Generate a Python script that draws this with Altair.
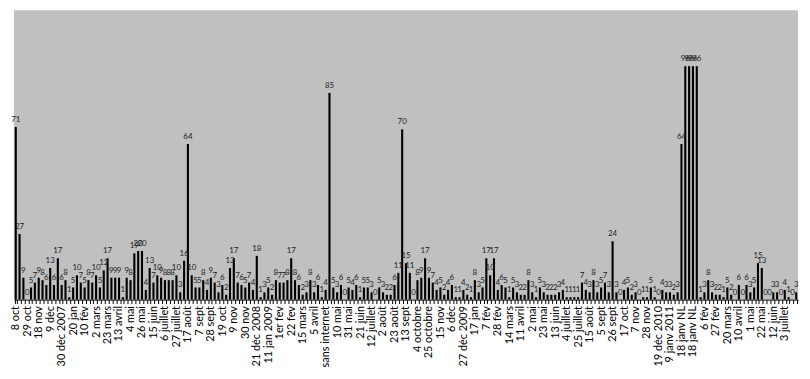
import altair as alt
import pandas as pd

values = [
    71, 27, 9, 0, 5, 7, 9, 8, 6, 13, 6, 17, 6, 8, 1, 5, 10, 7, 5, 8,
    7, 10, 5, 12, 17, 9, 9, 9, 1, 9, 8, 19, 20, 20, 4, 13, 7, 10, 9, 8,
    8, 8, 10, 3, 16, 64, 10, 5, 5, 8, 4, 9, 7, 3, 6, 2, 13, 17, 7, 6,
    5, 7, 4, 18, 1, 3, 5, 2, 8, 7, 7, 8, 17, 8, 6, 2, 3, 8, 3, 6,
    1, 4, 85, 5, 3, 6, 0, 5, 4, 6, 1, 5, 5, 3, 0, 5, 3, 2, 2, 6,
    11, 70, 15, 11, 0, 8, 9, 17, 9, 7, 4, 5, 2, 4, 6, 1, 1, 4, 2, 1,
    8, 3, 5, 17, 10, 17, 4, 6, 5, 1, 5, 3, 2, 2, 8, 3, 1, 5, 3, 2,
    2, 2, 3, 4, 1, 1, 1, 1, 7, 4, 3, 8, 3, 5, 7, 3, 24, 3, 0, 4,
    5, 2, 3, 0, 1, 1, 5, 1, 0, 4, 3, 3, 2, 3, 64, 96, 96, 96, 96, 1,
    3, 8, 3, 2, 2, 1, 5, 2, 0, 6, 0, 6, 3, 5, 15, 13, 0, 0, 3, 3,
    0, 4, 1, 0, 3,
]

tick_labels = [
    "8 oct", "29 oct", "18 nov", "9 déc", "30 déc 2007", "20 jan", "10 fév",
    "2 mars", "23 mars", "13 avril", "4 mai", "26 mai", "15 juin", "6 juillet",
    "27 juillet", "17 août", "7 sept", "28 sept", "19 oct", "9 nov", "30 nov",
    "21 déc 2008", "11 jan 2009", "1er fev", "22 fev", "15 mars", "5 avril",
    "sans internet", "10 mai", "31 mai", "21 juin", "12 juillet", "2 août",
    "23 août", "13 sept", "4 octobre", "25 octobre", "15 nov", "6 déc",
    "27 déc 2009", "17 jan", "7 fév", "28 fév", "14 mars", "11 avril", "2 mai",
    "23 mai", "13 juin", "4 juillet", "25 juillet", "15 août", "5 sept",
    "26 sept", "17 oct", "7 nov", "28 nov", "19 déc 2010", "9 janv 2011",
    "18 janv NL", "18 janv NL", "6 fév", "27 fév", "20 mars", "10 avril",
    "1 mai", "22 mai", "12 juin", "3 juillet",
]
label_every = 3

n = len(values)
axis_labels = [""] * n
for k, t in enumerate(tick_labels):
    if k * label_every < n:
        axis_labels[k * label_every] = t

df = pd.DataFrame({"idx": list(range(n)), "value": values})

arr = "[" + ",".join("'" + s.replace("'", "\\'") + "'" for s in axis_labels) + "]"
label_expr = arr + "[datum.value]"

x_enc = alt.X(
    "idx:O",
    scale=alt.Scale(paddingInner=0.45, paddingOuter=0.2),
    axis=alt.Axis(
        title=None,
        labelExpr=label_expr,
        labelAngle=-90,
        labelAlign="right",
        labelBaseline="middle",
        labelOverlap=False,
        labelFont="Lato",
        labelFontSize=11,
        labelColor="black",
        labelPadding=2,
        ticks=True,
        tickBand="extent",
        tickSize=4,
        tickColor="black",
        domainColor="black",
        grid=False,
    ),
)
y_enc = alt.Y("value:Q", scale=alt.Scale(domain=[0, 119], nice=False), axis=None)

bars = alt.Chart(df).mark_bar(color="black").encode(x=x_enc, y=y_enc)
texts = alt.Chart(df).mark_text(
    dy=-3, baseline="bottom", fontSize=8, font="Lato", color="#222222"
).encode(x=x_enc, y=y_enc, text="value:Q")

chart = (
    alt.layer(bars, texts)
    .properties(
        width=794,
        height=293,
        background="white",
        padding={"left": 0, "top": 0, "right": 0, "bottom": 0},
    )
    .configure_view(fill="#C0C0C0", stroke=None)
)

chart.save("out.html", embed_options={"renderer": "svg", "actions": False})
